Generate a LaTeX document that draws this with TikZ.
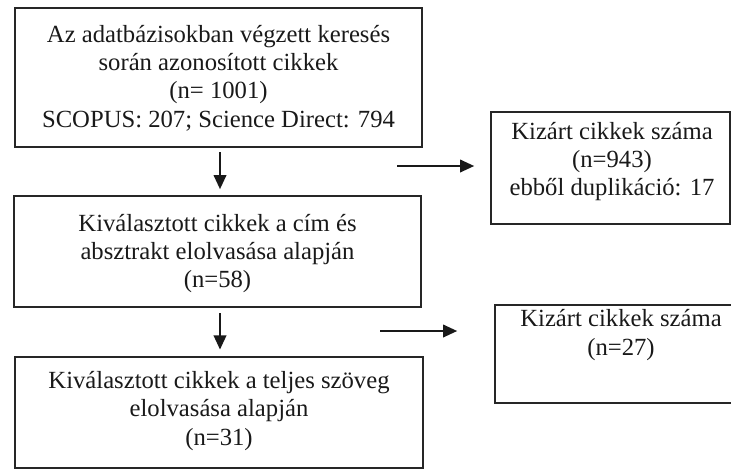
\documentclass[tikz,border=0pt]{standalone}
\usepackage{fontspec}
\setmainfont{Liberation Serif}
\usetikzlibrary{arrows.meta}
\begin{document}
\begin{tikzpicture}[x=0.75pt,y=-0.75pt,
  box/.style={draw=black!85,line width=1.3pt,inner sep=0pt},
  txt/.style={align=center,font=\fontsize{18.5}{21.3}\selectfont,text=black!90,inner sep=0pt},
  flow/.style={draw=black!90,line width=1.1pt,-{Triangle[length=10.5pt,width=9.5pt]}}]
\useasboundingbox (0,0) rectangle (731,469);
\begin{scope}
\clip (0,0) rectangle (731,469);
% main column
\node[box,minimum width=407*0.75pt,minimum height=139*0.75pt] (b1) at (218.5,77.5) {};
\node[txt] (t1) at (218.5,78) {Az adatbázisokban végzett keresés\\során azonosított cikkek\\(n= 1001)\\SCOPUS: 207; Science Direct: 794};
\node[box,minimum width=407*0.75pt,minimum height=111*0.75pt] (b2) at (217.5,251.5) {};
\node[txt] (t2) at (217.5,253.5) {Kiválasztott cikkek a cím és\\absztrakt elolvasása alapján\\(n=58)};
\node[box,minimum width=408*0.75pt,minimum height=111*0.75pt] (b3) at (219,412.5) {};
\node[txt] (t3) at (219,411) {Kiválasztott cikkek a teljes szöveg\\elolvasása alapján\\(n=31)};
% exclusion boxes
\node[box,minimum width=239*0.75pt,minimum height=112*0.75pt] (e1) at (610.5,168) {};
\node[txt] (u1) at (612,161.5) {Kizárt cikkek száma\\(n=943)\\ebből duplikáció: 17};
\node[box,minimum width=250*0.75pt,minimum height=98*0.75pt] (e2) at (620,354) {};
\node[txt] (u2) at (621,335) {Kizárt cikkek száma\\(n=27)};
\end{scope}
% vertical connectors
\coordinate (d1) at (220,152);
\coordinate (d2) at (220,313);
\draw[flow,shorten >=4.5pt] (d1) -- (d1 |- b2.north);
\draw[flow,shorten >=5pt] (d2) -- (d2 |- b3.north);
% side connectors
\coordinate (s1) at (397,166);
\coordinate (s2) at (380,331);
\draw[flow,shorten >=12pt] (s1) -- (s1 -| e1.west);
\draw[flow,shorten >=27.75pt] (s2) -- (s2 -| e2.west);
\end{tikzpicture}
\end{document}
